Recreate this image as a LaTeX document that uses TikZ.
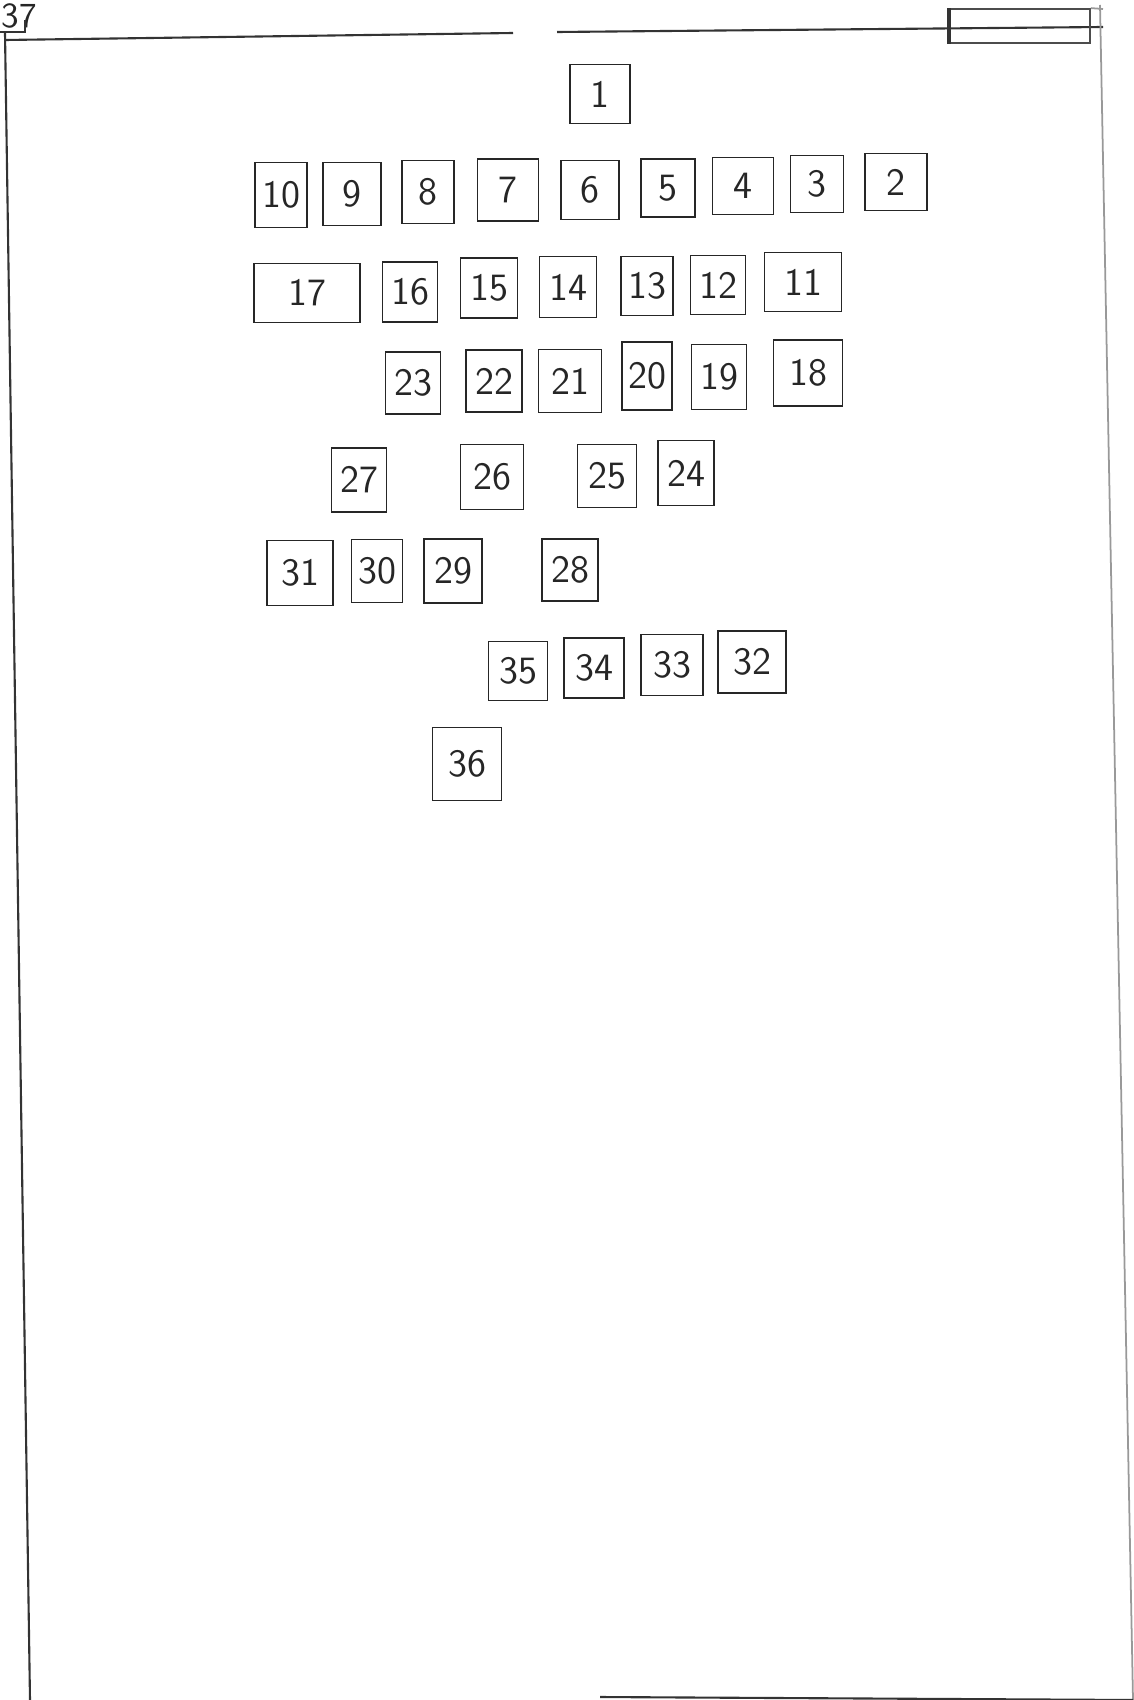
\documentclass[tikz,border=0pt]{standalone}
\usepackage{tikz}

\begin{document}
\begin{tikzpicture}[
    x=0.01cm, y=-0.01cm,
    every node/.style={
            font=\sffamily\fontsize{11}{13}\selectfont,
            text=black!85
        },
    seat/.style={
            rectangle,
            draw=black!85,
            line width=0.5pt,
            inner sep=0pt,
            minimum width=5.7mm,
            minimum height=6.1mm
        },
    seat_size/.style 2 args={minimum width=#1mm, minimum height=#2mm},
    frame_line/.style={draw=black!80, line width=0.6pt},
    faint_line/.style={draw=black!40, line width=0.5pt}
    ]

    \useasboundingbox (0,0) rectangle (1134,1700);

    % --- Sheet frame ---
    \coordinate (top_left) at (5,40);
    \coordinate (gap_left) at (513,33);
    \coordinate (gap_right) at (557,32);
    \coordinate (top_right) at (1103,27);
    \coordinate (corner_nw) at (5,33);
    \coordinate (corner_sw) at (30,1700);
    \coordinate (corner_ne) at (1100,5);
    \coordinate (corner_se) at (1133,1700);
    \coordinate (bottom_start) at (600,1697);

    \draw[frame_line] (top_left) -- (gap_left);
    \draw[frame_line] (gap_right) -- (top_right);
    \draw[frame_line] (corner_nw) -- (corner_sw);
    \draw[faint_line] (corner_ne) -- (corner_se);
    \draw[frame_line] (bottom_start) -- (corner_se);

    % --- Sheet number ---
    \node[font=\sffamily\fontsize{10}{12}\selectfont, inner sep=0pt, anchor=south west] (sheet_no) at (1,29) {37};
    \draw[frame_line] (0,32) -- (25,32) -- (25,20);

    % --- Title block ---
    \node[rectangle, draw=black!70, line width=0.5pt, minimum width=14mm, minimum height=3.4mm, inner sep=0pt] (title_box) at (1020,26) {};
    \draw[frame_line, line width=1pt] (title_box.north west) -- (title_box.south west);
    \draw[faint_line] (title_box.north east) -- (1103,9);

    % --- Row 1 ---
    \node[seat, seat_size={6.0}{5.9}] (seat_1) at (600,94) {1};

    % --- Row 2 ---
    \node[seat, seat_size={5.2}{6.5}] (seat_10) at (281,195) {10};
    \node[seat, seat_size={5.8}{6.3}] (seat_9) at (352,194) {9};
    \node[seat, seat_size={5.2}{6.3}] (seat_8) at (428,192) {8};
    \node[seat, seat_size={6.1}{6.2}] (seat_7) at (508,190) {7};
    \node[seat, seat_size={5.8}{5.9}] (seat_6) at (590,190) {6};
    \node[seat, seat_size={5.4}{5.8}] (seat_5) at (668,188) {5};
    \node[seat, seat_size={6.1}{5.7}] (seat_4) at (743,186) {4};
    \node[seat, seat_size={5.3}{5.7}] (seat_3) at (817,184) {3};
    \node[seat, seat_size={6.2}{5.7}] (seat_2) at (896,182) {2};

    % --- Row 3 ---
    \node[seat, seat_size={10.6}{5.9}] (seat_17) at (307,293) {17};
    \node[seat, seat_size={5.5}{6.0}] (seat_16) at (410,292) {16};
    \node[seat, seat_size={5.7}{6.0}] (seat_15) at (489,288) {15};
    \node[seat, seat_size={5.7}{6.1}] (seat_14) at (568,287) {14};
    \node[seat, seat_size={5.2}{5.9}] (seat_13) at (647,286) {13};
    \node[seat, seat_size={5.5}{5.9}] (seat_12) at (718,285) {12};
    \node[seat, seat_size={7.7}{5.9}] (seat_11) at (803,282) {11};

    % --- Row 4 ---
    \node[seat, seat_size={5.5}{6.2}] (seat_23) at (413,383) {23};
    \node[seat, seat_size={5.6}{6.2}] (seat_22) at (494,381) {22};
    \node[seat, seat_size={6.3}{6.3}] (seat_21) at (570,381) {21};
    \node[seat, seat_size={5.0}{6.8}] (seat_20) at (647,376) {20};
    \node[seat, seat_size={5.5}{6.5}] (seat_19) at (719,377) {19};
    \node[seat, seat_size={6.9}{6.6}] (seat_18) at (808,373) {18};

    % --- Row 5 ---
    \node[seat, seat_size={5.5}{6.4}] (seat_27) at (359,480) {27};
    \node[seat, seat_size={6.3}{6.5}] (seat_26) at (492,477) {26};
    \node[seat, seat_size={5.9}{6.3}] (seat_25) at (607,476) {25};
    \node[seat, seat_size={5.6}{6.5}] (seat_24) at (686,473) {24};

    % --- Row 6 ---
    \node[seat, seat_size={6.6}{6.5}] (seat_31) at (300,573) {31};
    \node[seat, seat_size={5.1}{6.3}] (seat_30) at (377,571) {30};
    \node[seat, seat_size={5.8}{6.4}] (seat_29) at (453,571) {29};
    \node[seat, seat_size={5.6}{6.2}] (seat_28) at (570,570) {28};

    % --- Row 7 ---
    \node[seat, seat_size={5.9}{5.9}] (seat_35) at (518,671) {35};
    \node[seat, seat_size={6.0}{6.0}] (seat_34) at (594,668) {34};
    \node[seat, seat_size={6.2}{6.1}] (seat_33) at (672,665) {33};
    \node[seat, seat_size={6.8}{6.2}] (seat_32) at (752,662) {32};

    % --- Row 8 ---
    \node[seat, seat_size={6.9}{7.3}] (seat_36) at (467,764) {36};

\end{tikzpicture}
\end{document}
